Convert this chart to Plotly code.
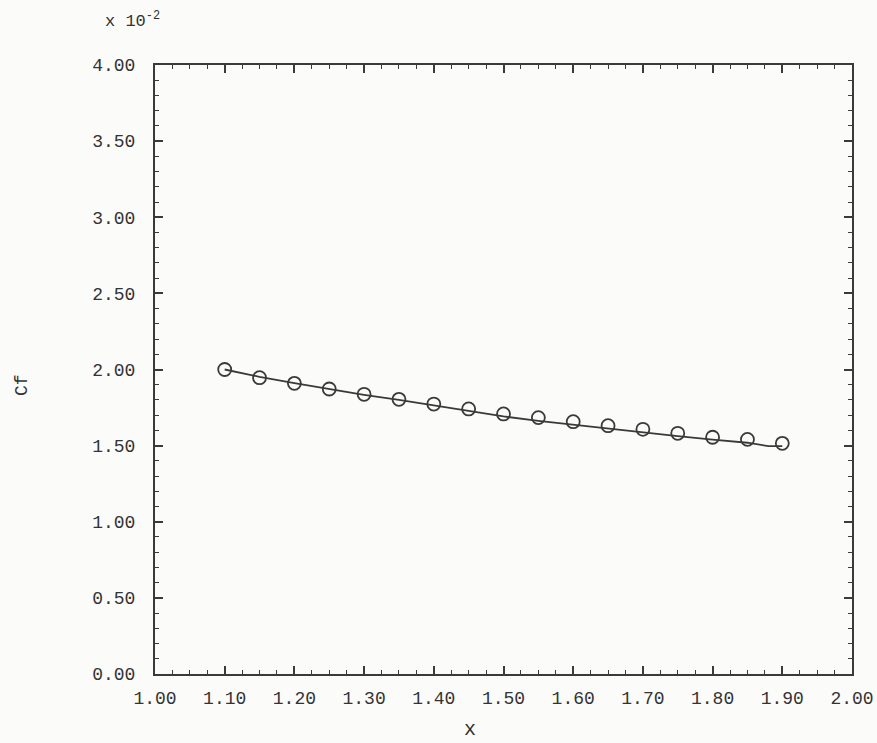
import plotly.graph_objects as go

# Skin-friction coefficient along x (values in units of 1e-2)
x_points = [1.10, 1.15, 1.20, 1.25, 1.30, 1.35, 1.40, 1.45, 1.50,
            1.55, 1.60, 1.65, 1.70, 1.75, 1.80, 1.85, 1.90]
cf_points = [2.000, 1.946, 1.909, 1.872, 1.837, 1.804, 1.773, 1.741, 1.708,
             1.684, 1.657, 1.631, 1.607, 1.581, 1.555, 1.541, 1.515]

x_curve = [1.10, 1.15, 1.20, 1.25, 1.30, 1.35, 1.40, 1.45, 1.50,
           1.55, 1.60, 1.65, 1.70, 1.75, 1.80, 1.85, 1.88, 1.90]
cf_curve = [2.000, 1.952, 1.910, 1.870, 1.834, 1.800, 1.764, 1.728, 1.692,
            1.662, 1.636, 1.612, 1.587, 1.562, 1.540, 1.519, 1.497, 1.497]

INK = "#3a3a3a"
FONT = "Liberation Mono, Courier New, monospace"

fig = go.Figure()
fig.add_trace(go.Scatter(
    x=x_curve, y=cf_curve, mode="lines",
    line=dict(color=INK, width=1.8),
    showlegend=False, hoverinfo="skip",
))
fig.add_trace(go.Scatter(
    x=x_points, y=cf_points, mode="markers",
    marker=dict(symbol="circle-open", size=13, color=INK,
                line=dict(color=INK, width=1.8)),
    showlegend=False,
))

axis_common = dict(
    showgrid=False, zeroline=False, automargin=False,
    showline=True, linecolor=INK, linewidth=2, mirror="ticks",
    ticks="inside", ticklen=8, tickwidth=1.5, tickcolor=INK,
    tickformat=".2f",
    tickfont=dict(family=FONT, size=18, color="#333333"),
)

fig.update_xaxes(
    range=[1.0, 2.0], dtick=0.1, tick0=1.0,
    minor=dict(dtick=0.025, ticks="inside", ticklen=4, tickwidth=1.2,
               tickcolor=INK, showgrid=False),
    ticklabelstandoff=6,
    **axis_common,
)
fig.update_yaxes(
    range=[0.0, 4.0], dtick=0.5, tick0=0.0,
    minor=dict(dtick=0.1, ticks="inside", ticklen=4, tickwidth=1.2,
               tickcolor=INK, showgrid=False),
    ticklabelstandoff=14,
    **axis_common,
)

fig.add_annotation(text="x 10<sup>-2</sup>", xref="paper", yref="paper",
                   x=(103 - 155) / 697, y=1 + (65 - 20) / 609,
                   xanchor="left", yanchor="middle", showarrow=False,
                   font=dict(family=FONT, size=17, color="#333333"))
fig.add_annotation(text="x", xref="paper", yref="paper",
                   x=(470 - 155) / 697, y=-(730 - 674) / 609,
                   xanchor="center", yanchor="middle", showarrow=False,
                   font=dict(family=FONT, size=20, color="#333333"))
fig.add_annotation(text="Cf", xref="paper", yref="paper",
                   x=-(155 - 22) / 697, y=(674 - 385) / 609,
                   xanchor="center", yanchor="middle", showarrow=False,
                   textangle=-90,
                   font=dict(family=FONT, size=18, color="#333333"))

fig.update_layout(
    width=877, height=743, autosize=False,
    margin=dict(l=155, r=25, t=65, b=69),
    paper_bgcolor="#fbfbf9", plot_bgcolor="#fbfbf9",
)

fig.write_html("out.html")
